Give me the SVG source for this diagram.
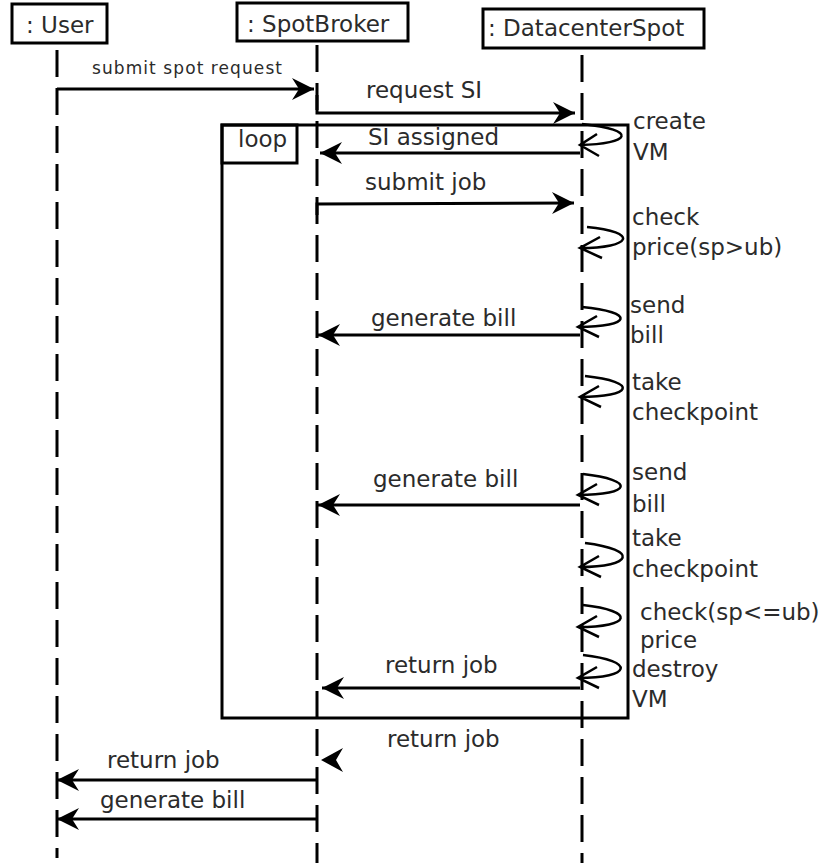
<svg xmlns="http://www.w3.org/2000/svg" width="827" height="863" viewBox="0 0 827 863">
<style>
  .t{font-family:"DejaVu Sans","Liberation Sans",sans-serif;font-size:23px;fill:#2b2b2b}
  .s{font-size:17px}
  .box{fill:#fff;stroke:#000;stroke-width:3}
  .life{stroke:#000;stroke-width:3;stroke-dasharray:27 11;fill:none}
  .msg{stroke:#000;stroke-width:3;fill:none}
  .self{stroke:#000;stroke-width:2.5;fill:none}
</style>
<defs>
  <marker id="fa" viewBox="-24 -13 26 26" markerWidth="26" markerHeight="26" refX="0" refY="0" orient="auto" markerUnits="userSpaceOnUse">
    <path d="M0,0 L-22,-11 L-15,0 L-22,11 Z" fill="#000"/>
  </marker>
</defs>

<g id="lifelines">
  <line class="life" x1="57" y1="50" x2="57" y2="858"/>
  <line class="life" x1="317" y1="45" x2="317" y2="863"/>
  <line class="life" x1="582" y1="55" x2="582" y2="863"/>
</g>

<g id="user"><rect class="box" x="12" y="4" width="95" height="39"/><text class="t" x="26" y="33">: User</text></g>
<g id="spotbroker"><rect class="box" x="237" y="3" width="171" height="38"/><text class="t" x="247" y="32">: SpotBroker</text></g>
<g id="datacenterspot"><rect class="box" x="483" y="9" width="221" height="39"/><text class="t" x="488" y="36">: DatacenterSpot</text></g>

<g id="loop">
  <rect x="222" y="125" width="406" height="593" fill="none" stroke="#000" stroke-width="3"/>
  <rect x="222" y="125" width="75" height="38" fill="none" stroke="#000" stroke-width="3"/>
  <text class="t" x="238" y="147">loop</text>
</g>

<g id="connectors">
  <line class="msg" x1="57" y1="89" x2="314" y2="89" marker-end="url(#fa)"/>
  <polyline class="msg" points="317,95 317,113 575,113" marker-end="url(#fa)"/>
  <line class="msg" x1="580" y1="153" x2="320" y2="153" marker-end="url(#fa)"/>
  <polyline class="msg" points="317,215 317,204 574,203" marker-end="url(#fa)"/>
  <line class="msg" x1="580" y1="335" x2="318" y2="335" marker-end="url(#fa)"/>
  <line class="msg" x1="580" y1="505" x2="318" y2="505" marker-end="url(#fa)"/>
  <line class="msg" x1="580" y1="688" x2="322" y2="688" marker-end="url(#fa)"/>
  <path d="M321,760 L343,748 L336,760 L343,772 Z" fill="#000"/>
  <line class="msg" x1="317" y1="780" x2="57" y2="780" marker-end="url(#fa)"/>
  <line class="msg" x1="317" y1="819" x2="57" y2="819" marker-end="url(#fa)"/>

  <g id="selfloops">
    <path class="self" d="M582,124 C640,130 630,144 580,145 M597,134 L580,145 L599,156"/>
    <path class="self" d="M587,227 C640,232 632,248 580,248 M600,237 L580,248 L602,258"/>
    <path class="self" d="M582,307 C636,312 632,327 578,327 M597,316 L578,327 L599,337"/>
    <path class="self" d="M585,376 C640,382 632,397 580,397 M599,386 L580,397 L601,407"/>
    <path class="self" d="M583,474 C636,480 632,495 578,495 M597,484 L578,495 L599,505"/>
    <path class="self" d="M585,543 C640,550 632,567 580,567 M599,556 L580,567 L601,577"/>
    <path class="self" d="M583,605 C636,611 632,627 578,627 M597,616 L578,627 L599,637"/>
    <path class="self" d="M583,655 C636,661 632,678 578,678 M597,667 L578,678 L599,688"/>
  </g>
</g>

<g id="labels">
  <text class="t s" x="92" y="74" textLength="190" lengthAdjust="spacing">submit spot request</text>
  <text class="t" x="366" y="98">request SI</text>
  <text class="t" x="368" y="145">SI assigned</text>
  <text class="t" x="365" y="190">submit job</text>
  <text class="t" x="371" y="326">generate bill</text>
  <text class="t" x="373" y="487">generate bill</text>
  <text class="t" x="385" y="673">return job</text>
  <text class="t" x="387" y="747">return job</text>
  <text class="t" x="107" y="768">return job</text>
  <text class="t" x="100" y="808">generate bill</text>

  <text class="t" x="633" y="129">create</text>
  <text class="t" x="633" y="160">VM</text>
  <text class="t" x="632" y="225">check</text>
  <text class="t" x="632" y="255">price(sp&gt;ub)</text>
  <text class="t" x="630" y="313">send</text>
  <text class="t" x="630" y="343">bill</text>
  <text class="t" x="632" y="390">take</text>
  <text class="t" x="632" y="420">checkpoint</text>
  <text class="t" x="632" y="480">send</text>
  <text class="t" x="632" y="512">bill</text>
  <text class="t" x="632" y="546">take</text>
  <text class="t" x="632" y="577">checkpoint</text>
  <text class="t" x="640" y="620">check(sp&lt;=ub)</text>
  <text class="t" x="640" y="648">price</text>
  <text class="t" x="632" y="677">destroy</text>
  <text class="t" x="632" y="707">VM</text>
</g>
</svg>
